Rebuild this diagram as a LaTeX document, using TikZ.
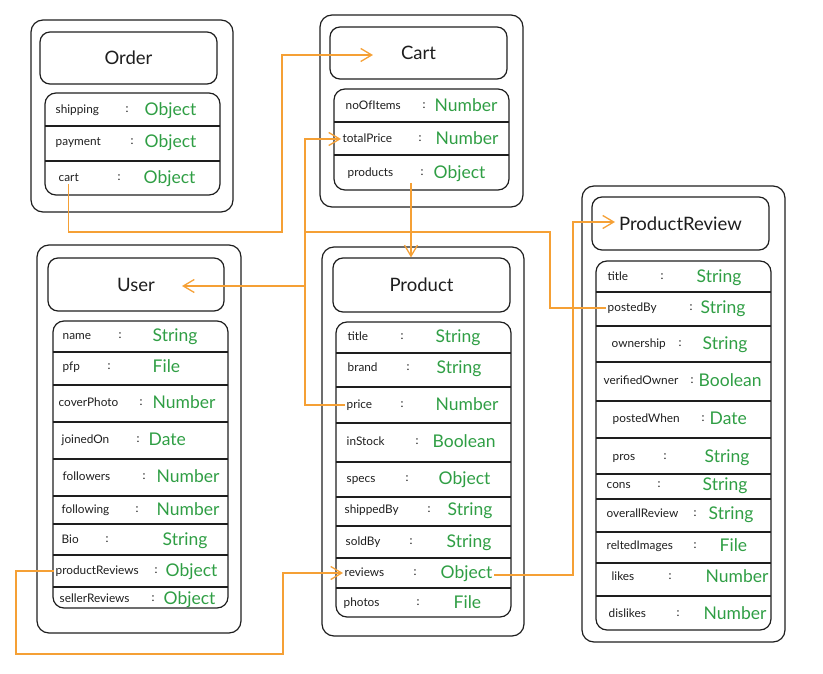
\documentclass[tikz,border=0pt]{standalone}
\usepackage{fontspec}
\setmainfont{Lato}
\usetikzlibrary{arrows.meta}
\definecolor{ink}{HTML}{1E1E1E}
\definecolor{tgreen}{HTML}{2F9E44}
\definecolor{lineor}{HTML}{F5A035}
\tikzset{
  outerbox/.style={draw=ink, line width=1.2pt, rounded corners=12pt},
  fieldbox/.style={draw=ink, line width=1.2pt, rounded corners=11pt},
  sepline/.style={draw=ink, line width=1.8pt},
  titlebox/.style={draw=ink, line width=1.2pt, rounded corners=10pt, text=ink,
    font=\fontsize{18.5}{21}\selectfont, inner sep=0pt},
  fname/.style={anchor=west, inner sep=1.5pt, text=ink, font=\fontsize{11.8}{14}\selectfont,
    text height=1.5ex, text depth=.3ex},
  fcolon/.style={inner sep=1pt, text=ink, font=\fontsize{11.8}{14}\selectfont},
  ftype/.style={anchor=west, inner sep=1.5pt, text=tgreen, font=\fontsize{17.5}{20}\selectfont,
    text height=1.5ex, text depth=.3ex, yshift=-2pt},
  conn/.style={draw=lineor, line width=1.3pt},
  barb/.style={-{Straight Barb[length=11pt,width=13pt,line width=1.3pt]}},
}
\newcommand\fieldrow[7]{%
  \node[fname] (#1-n) at (#3,#6) {#2};
  \node[fcolon] (#1-c) at (#4,#6) {:};
  \node[ftype] (#1-t) at (#5,#6) {#7};
}
\begin{document}
\begin{tikzpicture}[x=1pt,y=-1pt]
\useasboundingbox (0,0) rectangle (823,674);

% ---------------- Order ----------------
\draw[outerbox] (31,20) rectangle (233,212);
\node[titlebox, minimum width=177pt, minimum height=52pt] (o-title) at (128.5,58) {Order};
\draw[fieldbox] (45,93) rectangle (220,195);
\draw[sepline] (45,126) -- (220,126);
\draw[sepline] (45,161) -- (220,161);
\fieldrow{o-shipping}{shipping}{54}{127}{143}{110}{Object}
\fieldrow{o-payment}{payment}{54}{132}{143}{142}{Object}
\fieldrow{o-cart}{cart}{57}{119}{142}{178}{Object}

% ---------------- Cart ----------------
\draw[outerbox] (320,15) rectangle (523,207);
\node[titlebox, minimum width=177pt, minimum height=52pt] (c-title) at (418.5,53) {Cart};
\draw[fieldbox] (334,89) rectangle (509,190);
\draw[sepline] (334,122) -- (509,122);
\draw[sepline] (334,155) -- (509,155);
\fieldrow{c-noOfItems}{noOfItems}{344}{424}{433}{106}{Number}
\fieldrow{c-totalPrice}{totalPrice}{341}{420}{434}{139}{Number}
\fieldrow{c-products}{products}{346}{422}{432}{173}{Object}

% ---------------- User ----------------
\draw[outerbox] (37,245) rectangle (241,633);
\node[titlebox, minimum width=176pt, minimum height=53pt] (u-title) at (136,284.5) {User};
\draw[fieldbox] (53,321) rectangle (228,608);
\foreach \yy in {352,385,422,459,496,524,555,587} \draw[sepline] (53,\yy) -- (228,\yy);
\fieldrow{u-name}{name}{61}{120}{151}{336}{String}
\fieldrow{u-pfp}{pfp}{61}{109}{151}{367}{File}
\fieldrow{u-coverPhoto}{coverPhoto}{57}{141}{151}{403}{Number}
\fieldrow{u-joinedOn}{joinedOn}{60}{138}{147}{440}{Date}
\fieldrow{u-followers}{followers}{61}{144}{155}{477}{Number}
\fieldrow{u-following}{following}{60}{137}{155}{510}{Number}
\fieldrow{u-Bio}{Bio}{60}{107}{161}{540}{String}
\fieldrow{u-productReviews}{productReviews}{54}{156}{164}{571}{Object}
\fieldrow{u-sellerReviews}{sellerReviews}{58}{153}{162}{599}{Object}

% ---------------- Product ----------------
\draw[outerbox] (322,247) rectangle (524,636);
\node[titlebox, minimum width=177pt, minimum height=54pt] (p-title) at (421.5,285) {Product};
\draw[fieldbox] (336,322) rectangle (511,617);
\foreach \yy in {353,387,423,462,497,526,558,588} \draw[sepline] (336,\yy) -- (511,\yy);
\fieldrow{p-title}{title}{346}{402}{434}{337}{String}
\fieldrow{p-brand}{brand}{346}{408}{435}{368}{String}
\fieldrow{p-price}{price}{345}{402}{434}{405}{Number}
\fieldrow{p-inStock}{inStock}{345}{417}{431}{442}{Boolean}
\fieldrow{p-specs}{specs}{345}{407}{437}{479}{Object}
\fieldrow{p-shippedBy}{shippedBy}{343}{429}{446}{510}{String}
\fieldrow{p-soldBy}{soldBy}{344}{411}{445}{542}{String}
\fieldrow{p-reviews}{reviews}{343}{415}{439}{573}{Object}
\fieldrow{p-photos}{photos}{342}{418}{452}{603}{File}

% ---------------- ProductReview ----------------
\draw[outerbox] (582,186) rectangle (785,642);
\node[titlebox, minimum width=177pt, minimum height=53pt] (r-title) at (680.5,223.5) {ProductReview};
\draw[fieldbox] (596,261) rectangle (771,630);
\foreach \yy in {292,326,362,401,438,474,499,532,563,596} \draw[sepline] (596,\yy) -- (771,\yy);
\fieldrow{r-title}{title}{606}{662}{695}{277}{String}
\fieldrow{r-postedBy}{postedBy}{606}{691}{699}{308}{String}
\fieldrow{r-ownership}{ownership}{610}{680}{701}{344}{String}
\fieldrow{r-verifiedOwner}{verifiedOwner}{602}{692}{697}{381}{Boolean}
\fieldrow{r-postedWhen}{postedWhen}{611}{703}{708}{419}{Date}
\fieldrow{r-pros}{pros}{611}{665}{703}{457}{String}
\fieldrow{r-cons}{cons}{605}{659}{701}{485}{String}
\fieldrow{r-overallReview}{overallReview}{605}{695}{707}{514}{String}
\fieldrow{r-reltedImages}{reltedImages}{605}{695}{718}{546}{File}
\fieldrow{r-likes}{likes}{610}{670}{704}{577}{Number}
\fieldrow{r-dislikes}{dislikes}{607}{678}{702}{614}{Number}

% ---------------- connectors ----------------
\coordinate (cartTip) at (373,55);
\coordinate (orderX) at (282,232);
\coordinate (vx) at (305,0);
\coordinate (userTip) at (182,286);
\coordinate (jr) at (305,232);
\coordinate (jr2) at (550,232);
\coordinate (cpStart) at (411,183);
\coordinate (bl) at (16,654);
\coordinate (bm) at (283,654);
\coordinate (rx) at (573,0);
\coordinate (prTip) at (615,222);

% Order.cart -> Cart
\draw[conn,barb] (o-cart-n.south) |- (orderX) |- (cartTip);
% Product.price -> Cart.totalPrice
\draw[conn,barb] (p-price-n.west) -| (c-totalPrice-n.west -| vx) -- (c-totalPrice-n.west);
% branch -> User
\draw[conn,barb] (vx |- userTip) -- (userTip);
% branch -> ProductReview.postedBy
\draw[conn] (jr) -- (jr2) |- (r-postedBy-n.west);
% Cart.products -> Product
\draw[conn,barb] (cpStart) -- (cpStart |- p-title.north);
% User.productReviews -> Product.reviews
\draw[conn,barb] (u-productReviews-n.west) -| (bl) -- (bm) |- (p-reviews-n.west);
% Product.reviews -> ProductReview
\draw[conn,barb] (p-reviews-t.east) -| (rx |- prTip) -- (prTip);
\end{tikzpicture}
\end{document}
